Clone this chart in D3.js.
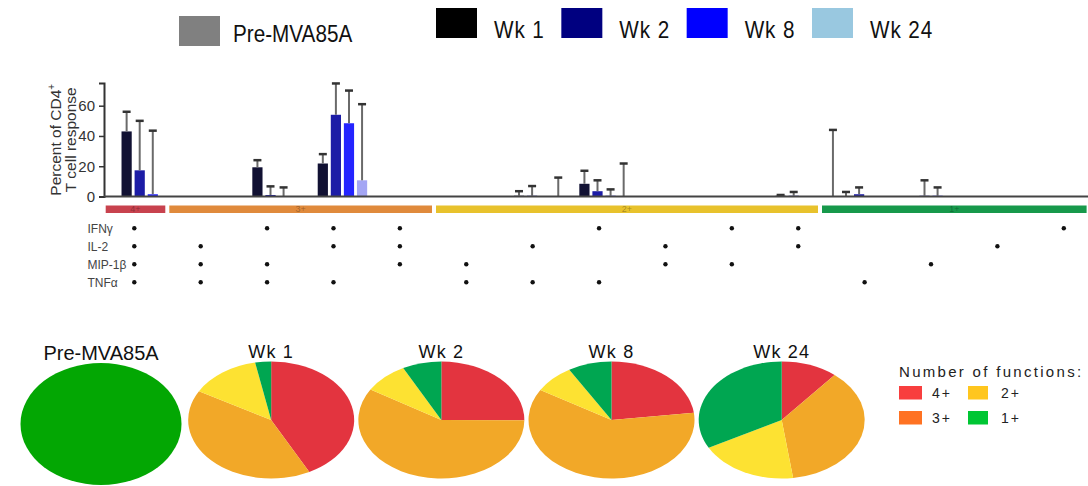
<!DOCTYPE html>
<html>
<head>
<meta charset="utf-8">
<script src="https://cdn.jsdelivr.net/npm/d3@7"></script>
<style>
  body { margin: 0; background: #fff; }
  svg { display: block; font-family: "Liberation Sans", Arial, sans-serif; }
</style>
</head>
<body>
<svg id="chart" width="1088" height="486"></svg>
<script>
// ---------- data ----------
const functions = ["IFNγ", "IL-2", "MIP-1β", "TNFα"];

// Boolean pattern of each cytokine combination (order follows `functions`)
const combos = [
  [1, 1, 1, 1],
  [0, 1, 1, 1], [1, 0, 1, 1], [1, 1, 0, 1], [1, 1, 1, 0],
  [0, 0, 1, 1], [0, 1, 0, 1], [1, 0, 0, 1], [0, 1, 1, 0], [1, 0, 1, 0], [1, 1, 0, 0],
  [0, 0, 0, 1], [0, 0, 1, 0], [0, 1, 0, 0], [1, 0, 0, 0]
];

const timepoints = ["Pre-MVA85A", "Wk 1", "Wk 2", "Wk 8", "Wk 24"];

// Mean % of the CD4+ response for each combination
const preMean  = [0, 0, 0, 0, 0, 0, 0, 0, 0, 0, 0, 0, 0, 0, 0];
const wk1Mean  = [43, 0, 19.3, 21.8, 0, 0, 0.5, 8.4, 0, 0, 0.5, 0.3, 0, 0, 0];
const wk2Mean  = [17.3, 0, 1, 54, 0, 0, 0.5, 3.5, 0, 0, 0.5, 1.5, 0.5, 0, 0];
const wk8Mean  = [1.5, 0, 0.3, 48.4, 0, 0, 0, 0.5, 0, 0, 0, 0, 0.5, 0, 0];
const wk24Mean = [0, 0, 0, 10.7, 0, 0, 0.3, 0.3, 0, 0, 0, 0, 0, 0, 0];

// Upper end of each error bar
const preUpper  = [0, 0, 0, 0, 0, 0, 0, 0, 0, 0, 0, 44, 0, 0, 0];
const wk1Upper  = [56, 0, 24, 28, 0, 0, 3.5, 17, 0, 0, 1, 3, 0, 0, 0];
const wk2Upper  = [50, 0, 6.7, 74.7, 0, 0, 6.9, 10.7, 0, 0, 3, 6, 10.7, 0, 0];
const wk8Upper  = [43.5, 0, 6, 70, 0, 0, 0, 4.7, 0, 0, 0, 0, 6, 0, 0];
const wk24Upper = [0, 0, 0, 61, 0, 0, 12.5, 21.8, 0, 0, 0, 0, 0, 0, 0];

const yTicks = [0, 20, 40, 60];

// Combination groups by number of functions
const groupLabels = ["4+", "3+", "2+", "1+"];
const groupSizes  = [1, 4, 6, 4];

// Share of the response by number of functions (4+, 3+, 2+, 1+)
const prePie  = [0, 0, 0, 100];
const wk1Pie  = [42.4, 40.8, 13.7, 3.1];
const wk2Pie  = [25.1, 58.6, 8.7, 7.6];
const wk8Pie  = [23.0, 60.6, 7.9, 8.5];
const wk24Pie = [11.0, 36.8, 19.3, 32.9];

// ---------- styles ----------
const legendColors = ["#808080", "#000000", "#000080", "#0000ff", "#99c8e0"];
const barColors    = ["#808080", "#111133", "#1c1ca6", "#2424ff", "#a4a6f4"];
const stripColors  = ["#c8424e", "#e08a3c", "#e8c22c", "#17994b"];
const pieColors    = ["#e3343f", "#f2a828", "#fde232", "#00a651"];
const preSoloColor = "#03a703";
const keyColors    = ["#f83e3e", "#ff7222", "#ffc61e", "#00c634"];

// ---------- assemble ----------
const comboNames = combos.map(c => functions.filter((f, i) => c[i]).join("+"));
const means  = [preMean, wk1Mean, wk2Mean, wk8Mean, wk24Mean];
const uppers = [preUpper, wk1Upper, wk2Upper, wk8Upper, wk24Upper];
const barData = [];
comboNames.forEach((name, ci) => {
  timepoints.forEach((tp, ti) => {
    barData.push({ combo: name, tp, ti, value: means[ti][ci], upper: uppers[ti][ci] });
  });
});
const pies = [prePie, wk1Pie, wk2Pie, wk8Pie, wk24Pie];

const svg = d3.select("#chart");
const font = "'Liberation Sans', Arial, sans-serif";

// ---------- top legend ----------
const legend = svg.append("g");
const wkX = d3.scalePoint().domain(timepoints.slice(1)).range([436, 812]);
timepoints.forEach((tp, i) => {
  const x = i === 0 ? 179 : wkX(tp);
  const y = i === 0 ? 16 : 8;
  legend.append("rect").attr("x", x).attr("y", y).attr("width", 41).attr("height", 30)
    .attr("fill", legendColors[i]);
  legend.append("text")
    .attr("transform", `translate(${x + (i === 0 ? 54 : 58)},${y + (i === 0 ? 26 : 29.5)}) scale(0.9,1)`)
    .attr("font-size", 23).attr("fill", "#111")
    .attr("letter-spacing", i === 0 ? 0 : 1)
    .text(tp);
});

// ---------- bar chart ----------
const x0 = d3.scaleBand().domain(comboNames).range([107, 1088]).padding(0);
const x1 = d3.scaleBand().domain(timepoints).range([0, x0.bandwidth()])
  .paddingInner(0.22).paddingOuter(0.11);
const y = d3.scaleLinear().domain([0, 75]).range([196.5, 83]);

const yAxis = svg.append("g").attr("transform", "translate(104,0)")
  .call(d3.axisLeft(y).tickValues(yTicks).tickSize(5).tickPadding(4));
yAxis.select(".domain").attr("stroke", "#333").attr("stroke-width", 2);
yAxis.selectAll(".tick line").attr("stroke", "#333").attr("stroke-width", 1.5);
yAxis.selectAll(".tick text").attr("font-size", 15).attr("font-family", font).attr("fill", "#333");

// axis title, two lines
const yTitle = svg.append("text")
  .attr("transform", `translate(61,${(y(0) + y(75)) / 2}) rotate(-90)`)
  .attr("text-anchor", "middle").attr("font-size", 15.5).attr("fill", "#333");
const line1 = yTitle.append("tspan").attr("x", 0).attr("y", 0);
line1.append("tspan").text("Percent of CD4");
line1.append("tspan").attr("font-size", 10).attr("dy", -6).text("+");
yTitle.append("tspan").attr("x", 0).attr("y", 14.5).text("T cell response");

const bars = svg.append("g");
bars.selectAll("rect").data(barData.filter(d => d.value > 0)).join("rect")
  .attr("x", d => x0(d.combo) + x1(d.tp))
  .attr("width", x1.bandwidth())
  .attr("y", d => y(d.value))
  .attr("height", d => y(0) - y(d.value))
  .attr("fill", d => barColors[d.ti]);

const errs = svg.append("g");
const errData = barData.filter(d => d.upper > d.value);
errs.selectAll("line.stem").data(errData).join("line").attr("class", "stem")
  .attr("x1", d => x0(d.combo) + x1(d.tp) + x1.bandwidth() / 2)
  .attr("x2", d => x0(d.combo) + x1(d.tp) + x1.bandwidth() / 2)
  .attr("y1", d => y(d.value)).attr("y2", d => y(d.upper))
  .attr("stroke", "#6a6a6a").attr("stroke-width", 2);
errs.selectAll("line.cap").data(errData).join("line").attr("class", "cap")
  .attr("x1", d => x0(d.combo) + x1(d.tp) + x1.bandwidth() / 2 - 4)
  .attr("x2", d => x0(d.combo) + x1(d.tp) + x1.bandwidth() / 2 + 4)
  .attr("y1", d => y(d.upper)).attr("y2", d => y(d.upper))
  .attr("stroke", "#333").attr("stroke-width", 2.5);

// baseline
svg.append("line").attr("x1", 104).attr("x2", 1088).attr("y1", y(0)).attr("y2", y(0))
  .attr("stroke", "#444").attr("stroke-width", 2);

// ---------- group strip ----------
const bounds = d3.cumsum([0, ...groupSizes]);
const stripX = d3.scaleLinear().domain(bounds).range([105.7, 167.3, 434, 820, 1086.6]);
const strip = svg.append("g");
groupLabels.forEach((g, i) => {
  const xa = stripX(bounds[i]) + (i === 0 ? 0 : 2);
  const xb = stripX(bounds[i + 1]) - (i === groupLabels.length - 1 ? 0 : 2);
  strip.append("rect").attr("x", xa).attr("y", 205.5).attr("width", xb - xa).attr("height", 7.5)
    .attr("fill", stripColors[i]);
  strip.append("text").attr("x", (xa + xb) / 2).attr("y", 212.3).attr("text-anchor", "middle")
    .attr("font-size", 9).attr("fill", "#000").attr("fill-opacity", 0.3).text(g);
});

// ---------- combination matrix ----------
const xd = d3.scalePoint().domain(comboNames).range([134.3, 1063.8]);
const yRow = d3.scalePoint().domain(functions).range([228.3, 282.3]);
const matrix = svg.append("g");
functions.forEach((f, fi) => {
  matrix.append("text").attr("x", 87.5).attr("y", yRow(f) + 4.2)
    .attr("font-size", 12).attr("fill", "#444").text(f);
  combos.forEach((c, ci) => {
    if (c[fi]) matrix.append("circle").attr("cx", xd(comboNames[ci])).attr("cy", yRow(f))
      .attr("r", 2.2).attr("fill", "#111");
  });
});

// ---------- pies ----------
const pieX = d3.scalePoint().domain(timepoints).range([101, 781.7]);
const pieGen = d3.pie().sort(null).value(d => d);
const arc = d3.arc().innerRadius(0).outerRadius(60);
const pieLayer = svg.append("g");
timepoints.forEach((tp, i) => {
  pieLayer.append("text").attr("x", pieX(tp)).attr("y", i === 0 ? 359.5 : 357.5)
    .attr("text-anchor", "middle").attr("font-size", i === 0 ? 20 : 18)
    .attr("letter-spacing", i === 0 ? 0 : 1.2).attr("fill", "#111").text(tp);
});
timepoints.forEach((tp, i) => {
  const rx = i === 0 ? 80.5 : 83;
  const ry = i === 0 ? 61 : 58.5;
  const cy = i === 0 ? 424 : 420;
  const g = pieLayer.append("g")
    .attr("transform", `translate(${pieX(tp)},${cy}) scale(${rx / 60},${ry / 60})`);
  g.selectAll("path").data(pieGen(pies[i]).filter(d => d.value > 0)).join("path")
    .attr("d", arc)
    .attr("fill", d => (i === 0 ? preSoloColor : pieColors[d.index]));
});

// ---------- pie key ----------
const key = svg.append("g");
key.append("text").attr("x", 899).attr("y", 376.5).attr("font-size", 15)
  .attr("letter-spacing", 2.3).attr("fill", "#222").text("Number of functions:");
const keyCol = [0, 0, 1, 1]; // 4+, 3+ in first column; 2+, 1+ in second
const keyRow = [0, 1, 0, 1];
groupLabels.forEach((g, i) => {
  const kx = 899 + keyCol[i] * 69;
  const ky = 386 + keyRow[i] * 25;
  key.append("rect").attr("x", kx).attr("y", ky).attr("width", keyCol[i] ? 20 : 23).attr("height", 13.5)
    .attr("fill", keyColors[i]);
  key.append("text").attr("x", kx + 33).attr("y", ky + 11.5)
    .attr("font-size", 14).attr("letter-spacing", 2).attr("fill", "#222").text(g);
});
</script>
</body>
</html>
